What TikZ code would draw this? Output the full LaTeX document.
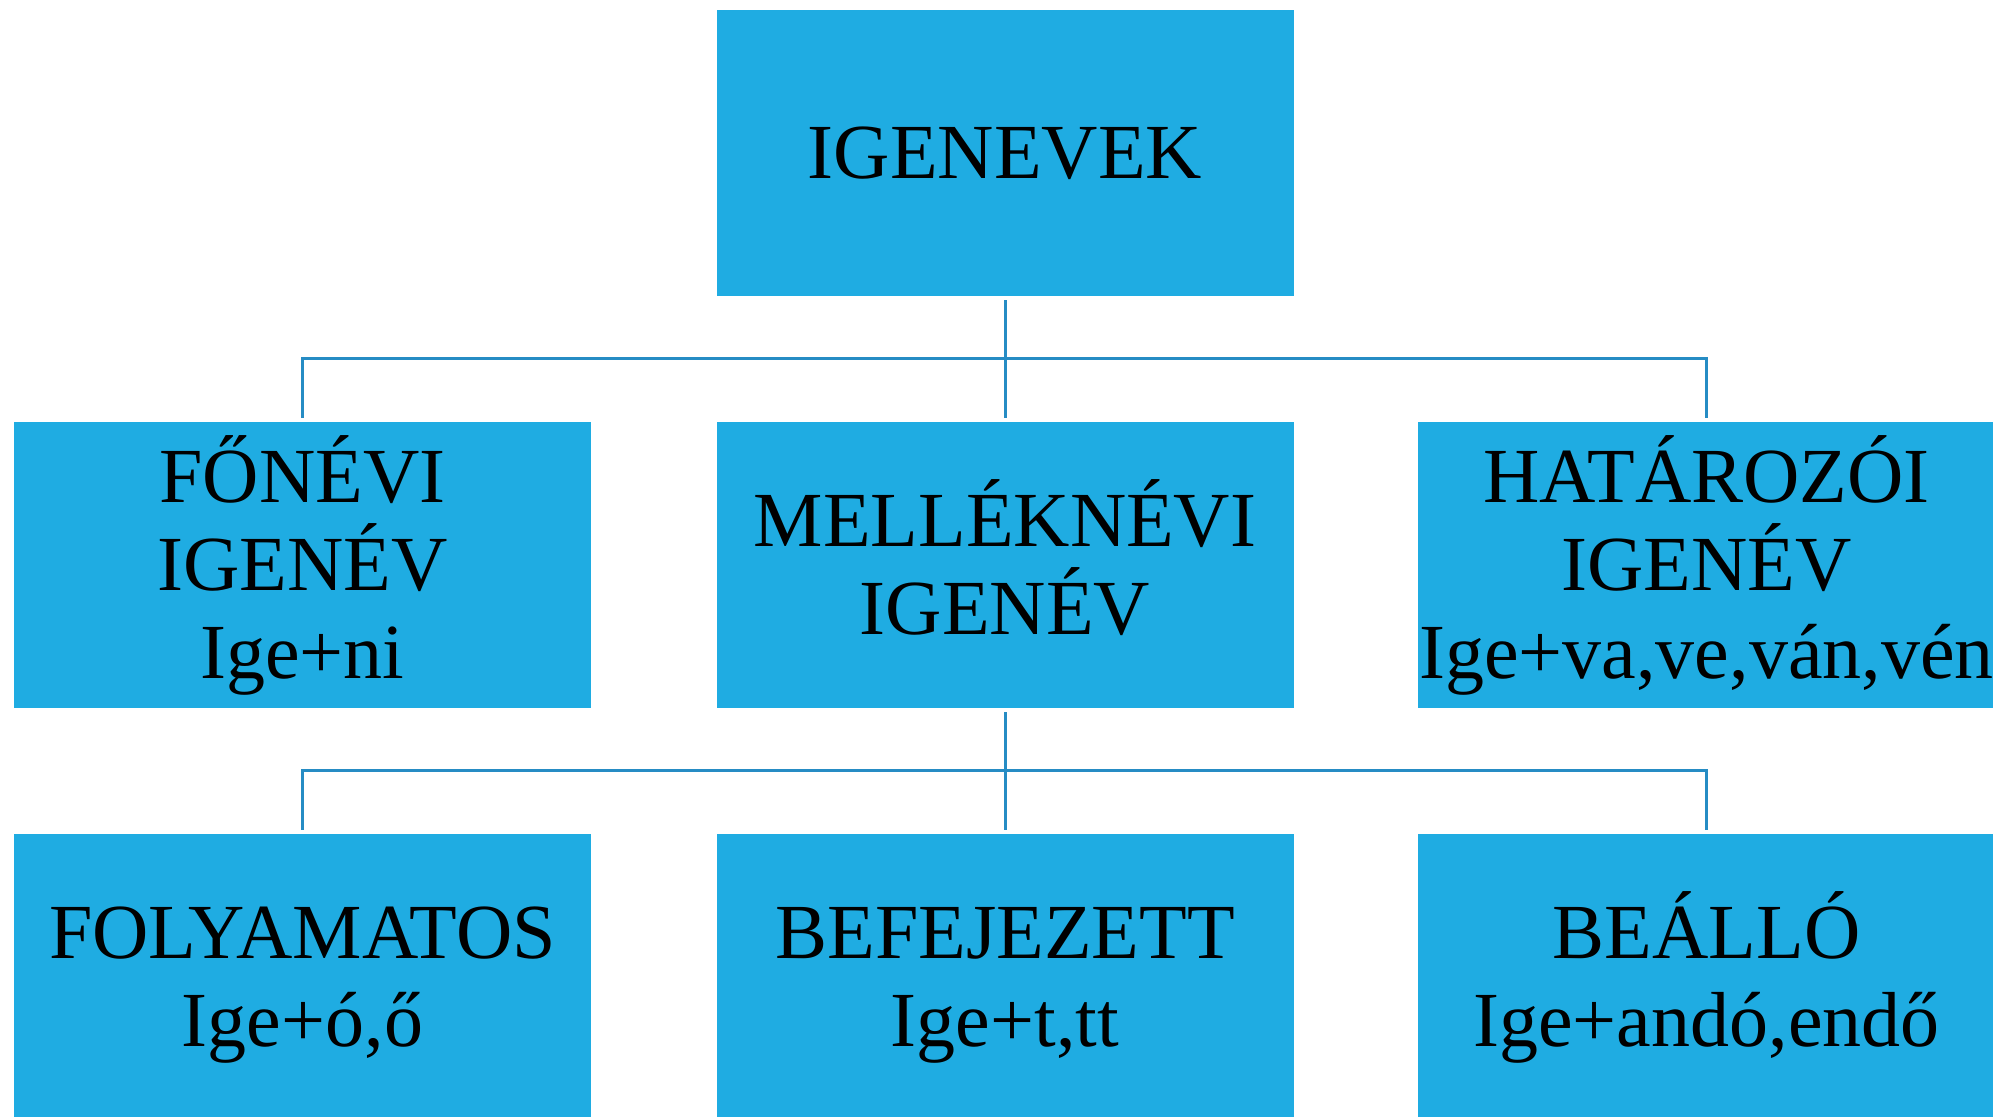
\documentclass[tikz,border=0pt]{standalone}
\usepackage{fontspec}
\setmainfont{Liberation Serif}
\definecolor{boxblue}{RGB}{31,172,226}
\definecolor{lineblue}{RGB}{38,140,196}
\newcommand{\tstr}{\rule{0pt}{37.7pt}}
\newcommand{\bstr}{\rule[-12pt]{0pt}{12pt}}
\begin{document}
\begin{tikzpicture}[x=0.5pt,y=-0.5pt,
  box/.style={fill=boxblue, draw=none, minimum width=288.5pt, minimum height=143pt,
    inner sep=0pt, align=center, text=black, font=\fontsize{39}{44}\selectfont},
  conn/.style={draw=lineblue, line width=1.5pt}]
\useasboundingbox (0,0) rectangle (1993,1116);
\node[box] (top) at (1005,153) {\tstr IGENEVEK\bstr};
\node[box] (fonevi) at (302.5,565) {\tstr FŐNÉVI\\IGENÉV\\Ige+ni\bstr};
\node[box] (mellek) at (1005,565) {\tstr MELLÉKNÉVI\\IGENÉV\bstr};
\node[box] (hataro) at (1706.5,565) {\tstr HATÁROZÓI\\IGENÉV\\Ige+va,ve,ván,vén\bstr};
\node[box] (folya) at (302.5,977) {\tstr FOLYAMATOS\\Ige+ó,ő\bstr};
\node[box] (befej) at (1005,977) {\tstr BEFEJEZETT\\Ige+t,tt\bstr};
\node[box] (beall) at (1706.5,977) {\tstr BEÁLLÓ\\Ige+andó,endő\bstr};
\coordinate (j1) at (1005,358);
\coordinate (j2) at (1005,770);
\draw[conn, shorten <=2pt, shorten >=2pt] (top.south) -- (mellek.north);
\draw[conn, shorten <=2pt, shorten >=2pt] (fonevi.north) -- (fonevi.north |- j1) -- (hataro.north |- j1) -- (hataro.north);
\draw[conn, shorten <=2pt, shorten >=2pt] (mellek.south) -- (befej.north);
\draw[conn, shorten <=2pt, shorten >=2pt] (folya.north) -- (folya.north |- j2) -- (beall.north |- j2) -- (beall.north);
\end{tikzpicture}
\end{document}
